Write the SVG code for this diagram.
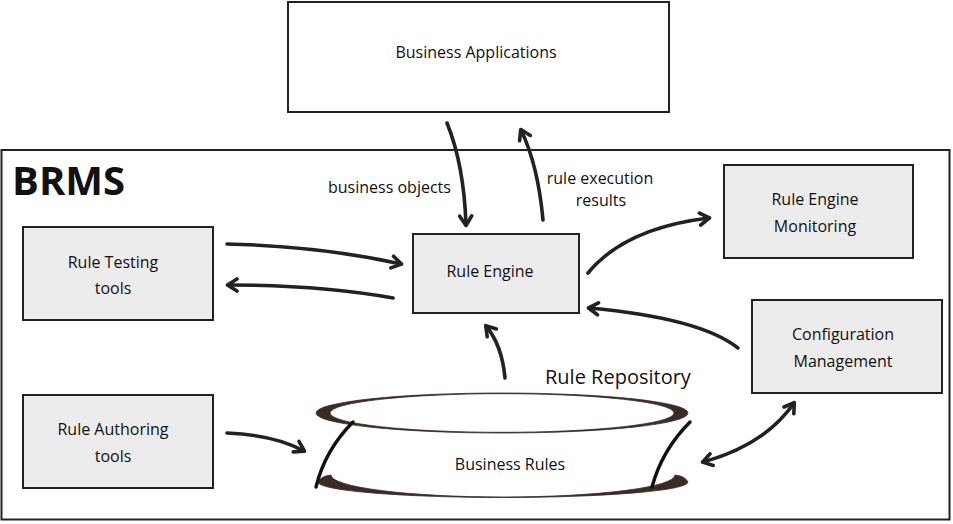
<svg xmlns="http://www.w3.org/2000/svg" width="953" height="524" viewBox="0 0 953 524">
<defs>
<marker id="ah" markerUnits="userSpaceOnUse" markerWidth="16" markerHeight="16" refX="12" refY="8" orient="auto-start-reverse">
<path d="M3,2 L12.5,8 L3,14" fill="none" stroke="#222" stroke-width="3.6" stroke-linecap="round" stroke-linejoin="round"/>
</marker>
</defs>
<style>
text{font-family:"Open Sans","Liberation Sans",sans-serif;fill:#111;font-weight:500;}
.lbl{font-size:16px;text-anchor:middle;}
.box{fill:#ececec;stroke:#222;stroke-width:2;}
.wbox{fill:#fff;stroke:#222;stroke-width:2;}
.conn{fill:none;stroke:#222;stroke-width:3.6;stroke-linecap:round;marker-end:url(#ah);}
.brush{fill:#3b2b27;stroke:#3b2b27;stroke-width:0.8;}
</style>
<rect width="953" height="524" fill="#fff"/>

<g id="brms">
<rect x="1.5" y="150" width="948" height="369.5" fill="none" stroke="#222" stroke-width="2"/>
<text x="12" y="195" style="font-size:40px;font-weight:bold;">BRMS</text>
</g>

<g id="business-applications">
<rect class="wbox" x="288" y="2" width="381" height="110"/>
<text class="lbl" x="476" y="58">Business Applications</text>
</g>

<g id="rule-testing">
<rect class="box" x="23" y="227" width="190" height="93"/>
<text class="lbl" x="113" y="268">Rule Testing</text>
<text class="lbl" x="113" y="294">tools</text>
</g>

<g id="rule-authoring">
<rect class="box" x="23" y="395" width="190" height="93"/>
<text class="lbl" x="113" y="435">Rule Authoring</text>
<text class="lbl" x="113" y="462">tools</text>
</g>

<g id="rule-engine">
<rect class="box" x="413" y="234" width="166" height="79"/>
<text class="lbl" x="490" y="277">Rule Engine</text>
</g>

<g id="rule-engine-monitoring">
<rect class="box" x="724" y="165" width="189" height="93"/>
<text class="lbl" x="815" y="205">Rule Engine</text>
<text class="lbl" x="815" y="232">Monitoring</text>
</g>

<g id="configuration-management">
<rect class="box" x="752" y="300" width="190" height="93"/>
<text class="lbl" x="843" y="340">Configuration</text>
<text class="lbl" x="843" y="367">Management</text>
</g>

<g id="rule-repository">
<path class="brush" fill-rule="evenodd" d="M316,413 A186,20 0 1 0 688,413 A186,20 0 1 0 316,413 Z M330,413 A172,19.3 0 1 0 674,413 A172,19.3 0 1 0 330,413 Z"/>
<path class="brush" d="M318,482 A185,15.5 0 0 0 688,482 Q685,476 675,475 A172,22 0 0 1 331,475 Q321,476 318,482 Z"/>
<path d="M353,422 Q325,450 316,487" fill="none" stroke="#111" stroke-width="3.4" stroke-linecap="round"/>
<path d="M690,422 Q662,450 652,487" fill="none" stroke="#111" stroke-width="3.4" stroke-linecap="round"/>
<text class="lbl" x="510" y="470">Business Rules</text>
<text x="545" y="384" style="font-size:20px;">Rule Repository</text>
</g>

<g id="connectors">
<path class="conn" d="M447,123 Q464,165 466,225"/>
<path class="conn" d="M543,220 Q538,165 521,130"/>
<path class="conn" d="M227,244 Q320,246 401,264"/>
<path class="conn" d="M393,298 Q320,285 228,285"/>
<path class="conn" d="M588,273 Q625,228 709,218"/>
<path class="conn" d="M738,348 Q700,318 589,308"/>
<path class="conn" d="M505,378 Q502,345 486,326"/>
<path class="conn" d="M227,433 Q275,435 304,451"/>
<path class="conn" style="marker-start:url(#ah);" d="M703,462 Q765,445 794,403"/>
<text x="328" y="193" style="font-size:16px;">business objects</text>
<text x="600" y="184" style="font-size:16px;text-anchor:middle;">rule execution</text>
<text x="601" y="206" style="font-size:16px;text-anchor:middle;">results</text>
</g>
</svg>
